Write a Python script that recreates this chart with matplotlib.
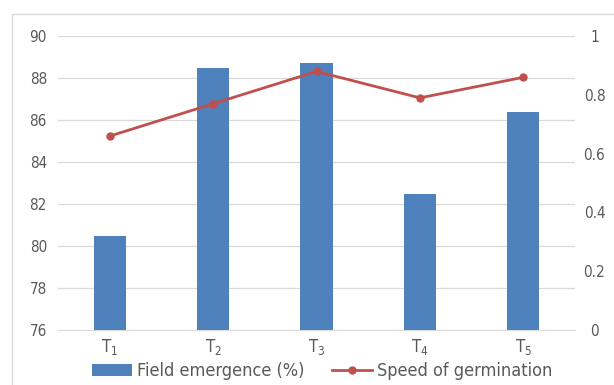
import matplotlib.pyplot as plt
from matplotlib.patches import Rectangle
import numpy as np

plt.rcParams['font.family'] = ['DejaVu Sans']
plt.rcParams['font.stretch'] = 'condensed'
plt.rcParams['mathtext.fontset'] = 'custom'
plt.rcParams['mathtext.rm'] = 'DejaVu Sans:stretch=condensed'

# ---------- Data ----------
treatments = ["1", "2", "3", "4", "5"]
field_emergence = [80.5, 88.5, 88.7, 82.5, 86.4]
speed_germination = [0.66, 0.77, 0.88, 0.79, 0.86]
left_ticks = [76, 78, 80, 82, 84, 86, 88, 90]
right_ticks = [0, 0.2, 0.4, 0.6, 0.8, 1]

BAR = "#4F81BD"
LINE = "#C0504D"
TXT = "#595959"
GRID = "#D9D9D9"

fig = plt.figure(figsize=(6.14, 3.85), dpi=100)
ax = fig.add_axes([0.0945, 0.143, 0.842, 0.763])
x = np.arange(len(treatments))

ax.bar(x, field_emergence, width=0.31, color=BAR, zorder=2, label="Field emergence (%)")
ax.set_ylim(76, 90)
ax.set_yticks(left_ticks)
ax.set_xlim(-0.5, len(treatments) - 0.5)
ax.set_xticks(x)
ax.set_xticklabels([r"$\mathregular{T_%s}$" % t for t in treatments])
ax.grid(axis="y", color=GRID, lw=0.9, zorder=0)
for s in ["top", "right", "left"]:
    ax.spines[s].set_visible(False)
ax.spines["bottom"].set_color(GRID)
ax.tick_params(length=0, colors=TXT, labelsize=11)
ax.tick_params(axis="y", pad=8)
ax.tick_params(axis="x", pad=5, labelsize=12)

ax2 = ax.twinx()
ax2.plot(x, speed_germination, color=LINE, lw=2, marker="o", ms=5, zorder=3,
         label="Speed of germination")
ax2.set_ylim(0, 1)
ax2.set_yticks(right_ticks)
ax2.set_yticklabels(["0", "0.2", "0.4", "0.6", "0.8", "1"], ha="center")
for s in ax2.spines.values():
    s.set_visible(False)
ax2.tick_params(length=0, colors=TXT, labelsize=11, pad=14)

h1, l1 = ax.get_legend_handles_labels()
h2, l2 = ax2.get_legend_handles_labels()
fig.legend(h1 + h2, l1 + l2, loc="center", bbox_to_anchor=(0.525, 0.036), ncol=2,
           frameon=False, fontsize=13, handlelength=2.2, columnspacing=1.5,
           handletextpad=0.3, labelcolor=TXT)

# chart frame
fig.patches.append(Rectangle((12 / 614, -0.1), 1.2, 1 - 14 / 385 + 0.1,
                             transform=fig.transFigure, fill=False,
                             edgecolor=GRID, lw=1))

fig.savefig("out.png", dpi=100)
